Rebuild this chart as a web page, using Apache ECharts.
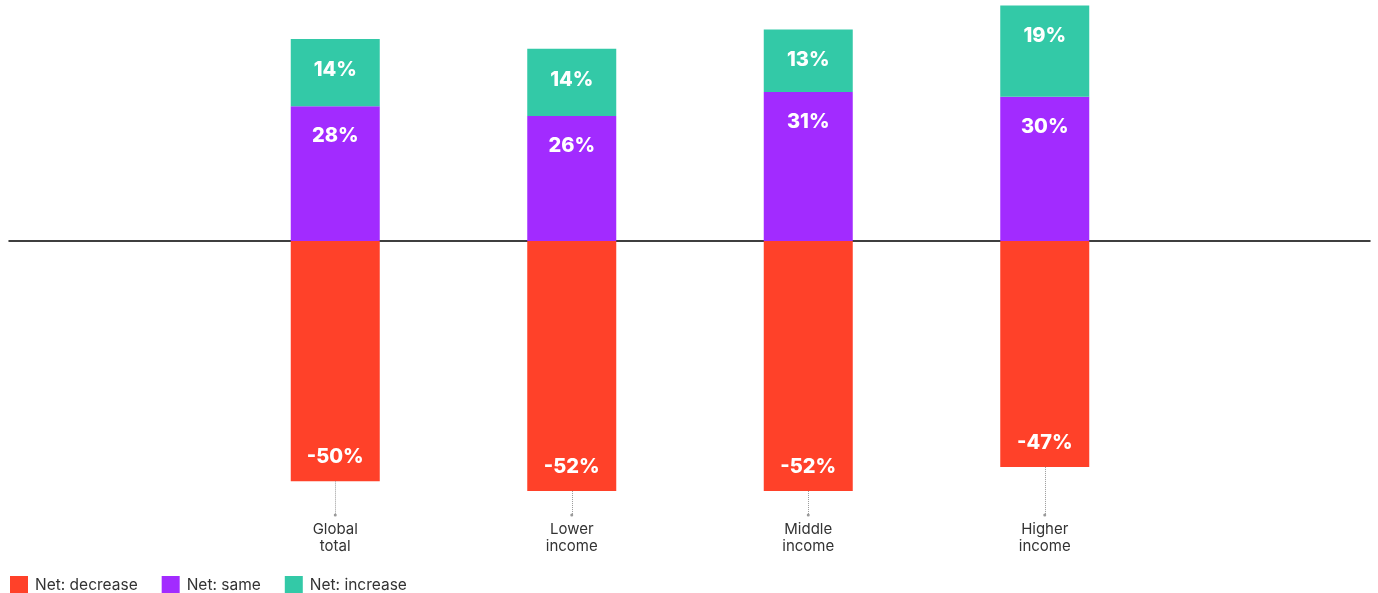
<!DOCTYPE html>
<html>
<head>
<meta charset="utf-8">
<script src="https://cdn.jsdelivr.net/npm/echarts@6/dist/echarts.min.js"></script>
<style>
html,body{margin:0;padding:0;background:#fff;}
#chart{width:1378px;height:593px;}
</style>
</head>
<body>
<div id="chart"></div>
<script>
const categories = ['Global\ntotal', 'Lower\nincome', 'Middle\nincome', 'Higher\nincome'];
const netDecrease = [-50, -52, -52, -47];
const netSame = [28, 26, 31, 30];
const netIncrease = [14, 14, 13, 19];
const seriesNames = ['Net: decrease', 'Net: same', 'Net: increase'];
const colors = ['#FF4129', '#A22BFF', '#33C9A7'];

const Y_MIN = -57, Y_MAX = 49.5;
const FONT = 'Inter, "Noto Sans", sans-serif';

const labelBase = {
  show: true,
  color: '#fff',
  fontFamily: FONT,
  fontWeight: 800,
  fontSize: 20,
  formatter: p => p.value + '%'
};

const chart = echarts.init(document.getElementById('chart'));
chart.setOption({
  animation: false,
  color: colors,
  textStyle: { fontFamily: FONT },
  legend: {
    left: 10,
    top: 576,
    padding: 0,
    itemWidth: 18,
    itemHeight: 18,
    itemGap: 24,
    icon: 'rect',
    textStyle: { fontSize: 15.5, color: '#333', fontFamily: FONT, padding: [0, 0, 0, 2] },
    data: seriesNames
  },
  grid: [
    { left: 217, width: 946, top: 3, height: 512 },
    { left: 9, right: 8, top: 3, height: 512 }
  ],
  xAxis: [
    {
      type: 'category', gridIndex: 0, data: categories,
      axisLine: { show: false }, axisTick: { show: false },
      axisLabel: { margin: 6, fontSize: 15, color: '#333', lineHeight: 17, fontFamily: FONT }
    },
    {
      type: 'value', gridIndex: 1, min: 0, max: 1,
      axisLine: { show: true, onZero: true, lineStyle: { color: '#000', width: 1.5 } },
      axisTick: { show: false }, axisLabel: { show: false }, splitLine: { show: false }
    }
  ],
  yAxis: [
    { type: 'value', gridIndex: 0, min: Y_MIN, max: Y_MAX, show: false, splitLine: { show: false } },
    { type: 'value', gridIndex: 1, min: Y_MIN, max: Y_MAX, show: false, splitLine: { show: false } }
  ],
  series: [
    {
      name: seriesNames[0], type: 'bar', stack: 'total', data: netDecrease, barWidth: 89,
      xAxisIndex: 0, yAxisIndex: 0,
      label: Object.assign({}, labelBase, { position: 'insideBottom', distance: 14 }),
      markLine: {
        silent: true,
        symbol: ['none', 'circle'],
        symbolSize: 3,
        label: { show: false },
        lineStyle: { color: '#999', type: 'dotted', width: 1 },
        data: netDecrease.map((v, i) => [
          { coord: [i, v] },
          { coord: [i, Y_MIN] }
        ])
      }
    },
    {
      name: seriesNames[1], type: 'bar', stack: 'total', data: netSame, barWidth: 89,
      xAxisIndex: 0, yAxisIndex: 0,
      label: Object.assign({}, labelBase, { position: 'insideTop', distance: 20 })
    },
    {
      name: seriesNames[2], type: 'bar', stack: 'total', data: netIncrease, barWidth: 89,
      xAxisIndex: 0, yAxisIndex: 0,
      label: Object.assign({}, labelBase, { position: 'insideTop', distance: 21 })
    }
  ]
});
</script>
</body>
</html>
